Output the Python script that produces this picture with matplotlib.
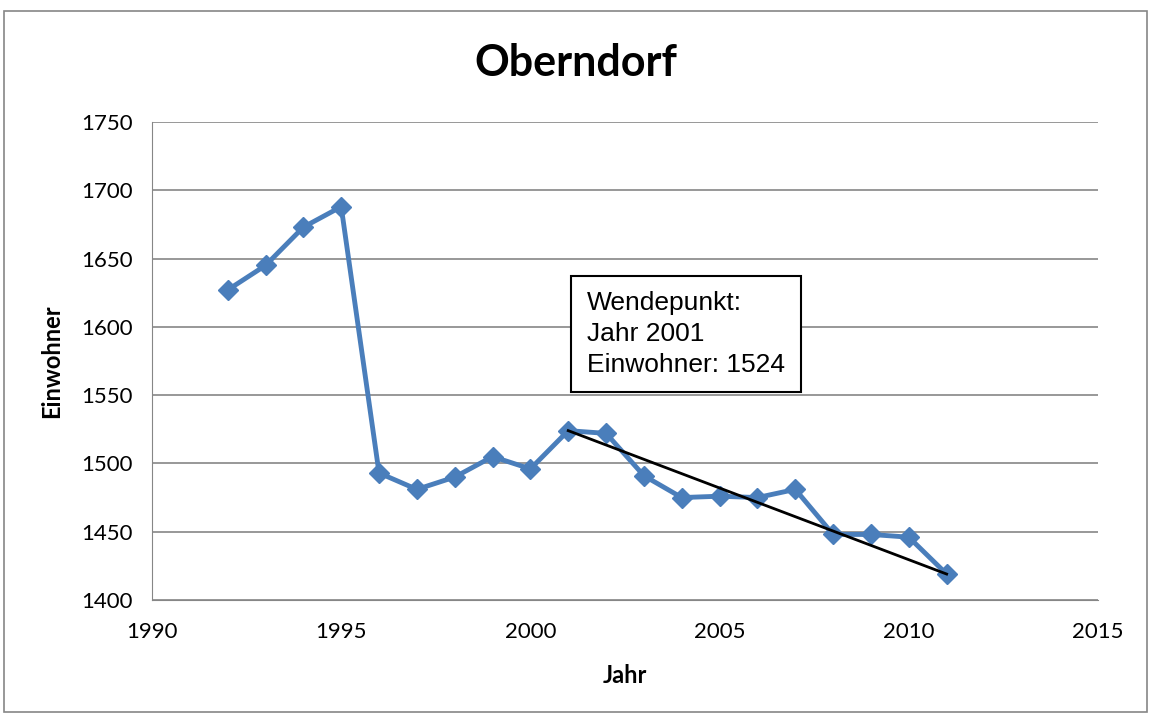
import matplotlib
matplotlib.use("Agg")
import matplotlib.pyplot as plt

# Einwohnerzahlen Oberndorf
jahre = [1992, 1993, 1994, 1995, 1996, 1997, 1998, 1999, 2000, 2001,
         2002, 2003, 2004, 2005, 2006, 2007, 2008, 2009, 2010, 2011]
einwohner = [1627, 1645, 1673, 1688, 1493, 1481, 1490, 1505, 1496, 1524,
             1522, 1491, 1475, 1476, 1475, 1481, 1448, 1448, 1446, 1419]

# Trendlinie ab dem Wendepunkt
trend_jahre = [2001, 2011]
trend_werte = [1524, 1419]

x_ticks = [1990, 1995, 2000, 2005, 2010, 2015]
y_ticks = [1400, 1450, 1500, 1550, 1600, 1650, 1700, 1750]

plt.rcParams['font.family'] = ['Lato', 'DejaVu Sans']

fig = plt.figure(figsize=(11.51, 7.16), dpi=100)
ax = fig.add_axes([152 / 1151, 1 - 600 / 716, (1098 - 152) / 1151, (600 - 122) / 716])

ax.plot(jahre, einwohner, color='#4a7ebb', linewidth=3.5, marker='D', markersize=10,
        zorder=3)
ax.plot(trend_jahre, trend_werte, color='black', linewidth=2, zorder=4)

ax.set_xlim(1990, 2015)
ax.set_ylim(1400, 1750)
ax.set_xticks(x_ticks)
ax.set_yticks(y_ticks)
ax.tick_params(axis='both', length=0, labelsize=16)
ax.tick_params(axis='y', pad=14)
ax.tick_params(axis='x', pad=16)
ax.grid(axis='y', color='#868686', linewidth=1.2)
ax.set_axisbelow(True)
for side in ['top', 'right']:
    ax.spines[side].set_visible(False)
ax.spines['bottom'].set_color('#868686')
ax.spines['left'].set_color('#868686')

ax.set_xlabel('Jahr', fontsize=17, fontweight='bold', labelpad=16)
ax.set_ylabel('Einwohner', fontsize=17, fontweight='bold')
ax.yaxis.set_label_coords(-0.094, 0.5)
fig.suptitle('Oberndorf', fontsize=31, fontweight='bold', y=0.94)

ax.text(2001.5, 1626, 'Wendepunkt:\nJahr 2001\nEinwohner: 1524',
        family=['Liberation Sans', 'DejaVu Sans'], fontsize=19, va='top',
        linespacing=1.35,
        bbox=dict(boxstyle='square,pad=0.6', facecolor='white', edgecolor='black',
                  linewidth=1.5))

# Rahmen um das Diagramm
fig.patches.append(plt.Rectangle((4 / 1151, 0.005), 1 - 8 / 1151, 1 - 11 / 716 - 0.005,
                                 transform=fig.transFigure, fill=False,
                                 edgecolor='#868686', linewidth=1.2))

fig.savefig('out.png', dpi=100)
